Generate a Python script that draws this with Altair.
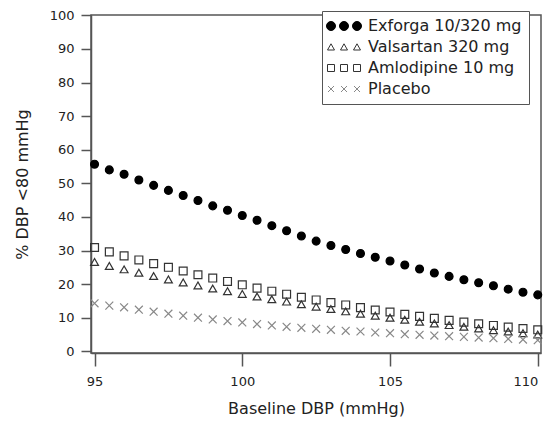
import altair as alt
import pandas as pd

baseline = [95 + 0.5 * i for i in range(31)]
series_names = ["Exforga 10/320 mg", "Valsartan 320 mg", "Amlodipine 10 mg", "Placebo"]

exforga = [55.7, 54.0, 52.7, 51.0, 49.4, 47.9, 46.4, 44.9, 43.3, 42.0, 40.4, 39.0, 37.4, 35.9, 34.3,
           32.8, 31.5, 30.3, 29.1, 28.0, 26.9, 25.7, 24.5, 23.3, 22.3, 21.3, 20.4, 19.5, 18.5, 17.6, 16.8]
valsartan = [26.6, 25.4, 24.4, 23.4, 22.4, 21.4, 20.5, 19.6, 18.7, 17.9, 17.1, 16.3, 15.5, 14.8, 14.0,
             13.3, 12.6, 11.9, 11.2, 10.6, 10.0, 9.4, 8.8, 8.3, 7.8, 7.3, 6.8, 6.3, 5.9, 5.4, 5.0]
amlodipine = [30.9, 29.6, 28.4, 27.2, 26.1, 25.0, 23.9, 22.8, 21.8, 20.8, 19.8, 18.8, 17.9, 17.0, 16.1,
              15.3, 14.5, 13.8, 13.0, 12.3, 11.7, 11.0, 10.4, 9.8, 9.2, 8.7, 8.2, 7.7, 7.2, 6.8, 6.4]
placebo = [14.3, 13.6, 13.1, 12.4, 11.8, 11.2, 10.6, 10.0, 9.5, 9.0, 8.6, 8.1, 7.7, 7.3, 7.0,
           6.7, 6.4, 6.1, 5.9, 5.6, 5.4, 5.1, 4.9, 4.7, 4.5, 4.3, 4.1, 3.9, 3.7, 3.5, 3.3]

x_ticks = [95, 100, 105, 110]
y_ticks = [0, 10, 20, 30, 40, 50, 60, 70, 80, 90, 100]

rows = []
for name, vals in zip(series_names, [exforga, valsartan, amlodipine, placebo]):
    for b, v in zip(baseline, vals):
        rows.append({"baseline": b, "pct": v, "series": name})
df = pd.DataFrame(rows)

FONT = "DejaVu Sans"
X_PATH = "M-1,-1L1,1M-1,1L1,-1"

# legend glyphs: three symbols side by side (unit = sqrt(symbolSize)/2 px)
def tri(cx):
    return f"M{cx-1.75},1.5L{cx+1.75},1.5L{cx},-1.6Z"
def sq(cx):
    return f"M{cx-1.75},-1.75h3.5v3.5h-3.5Z"
def circ(cx):
    r = 2.25
    return f"M{cx-r},0a{r},{r} 0 1,0 {2*r},0a{r},{r} 0 1,0 {-2*r},0Z"
def cross(cx):
    h = 1.5
    return f"M{cx-h},{-h}L{cx+h},{h}M{cx-h},{h}L{cx+h},{-h}"

cs = [-6.5, 0, 6.5]
legend_paths = ["".join(f(c) for c in cs) for f in (circ, tri, sq, cross)]

stroke_colors = ["#000000", "#333333", "#333333", "#888888"]
fill_colors = ["#000000", "transparent", "transparent", "transparent"]

x_enc = alt.X("baseline:Q", scale=alt.Scale(domain=[94.88, 110.11], nice=False, zero=False),
              axis=alt.Axis(values=x_ticks, title="Baseline DBP (mmHg)", grid=False,
                            tickSize=13, labelPadding=9, titlePadding=12, labelFontSize=13,
                            labelAlign=alt.ConditionalAxisLabelAlign(
                                condition={"test": "datum.value >= 110", "value": "right"},
                                value="center")))
y_enc = alt.Y("pct:Q", scale=alt.Scale(domain=[-0.5, 100.1], nice=False),
              axis=alt.Axis(values=y_ticks, title="% DBP <80 mmHg", grid=False,
                            tickSize=10, labelPadding=7, titlePadding=19, labelFontSize=13))

points = alt.Chart(df).mark_point(size=62, strokeWidth=1.2, opacity=1, filled=False).encode(
    x=x_enc, y=y_enc,
    shape=alt.Shape("series:N", scale=alt.Scale(domain=series_names,
                    range=["circle", "triangle-up", "square", X_PATH]), legend=None),
    color=alt.Color("series:N", scale=alt.Scale(domain=series_names, range=stroke_colors), legend=None),
    fill=alt.Fill("series:N", scale=alt.Scale(domain=series_names, range=fill_colors), legend=None),
)

legend = alt.Legend(
    title=None, orient="none", legendX=231, legendY=-4,
    strokeColor="#555", padding=7, fillColor="white",
    labelFont=FONT, labelFontSize=16, labelColor="#222",
    symbolSize=16, symbolOffset=7, labelOffset=16, rowPadding=5,
    symbolStrokeWidth=1,
)

legend_layer = alt.Chart(df).transform_filter("false").mark_point(
    size=16, strokeWidth=1, opacity=1, filled=False
).encode(
    x=x_enc, y=y_enc,
    shape=alt.Shape("series:N", scale=alt.Scale(domain=series_names, range=legend_paths), legend=legend),
    color=alt.Color("series:N", scale=alt.Scale(domain=series_names, range=stroke_colors), legend=legend),
    fill=alt.Fill("series:N", scale=alt.Scale(domain=series_names, range=fill_colors), legend=legend),
)

chart = alt.layer(points, legend_layer).resolve_scale(
    shape="independent", color="independent", fill="independent"
).properties(
    width=450, height=338,
    autosize=alt.AutoSizeParams(type="none"),
    padding={"left": 83, "top": 7, "right": 2, "bottom": 64},
).configure_view(
    stroke="#555", strokeWidth=1.5
).configure_axis(
    domainColor="#555", domainWidth=1.5, tickColor="#555", tickWidth=1.5,
    labelFont=FONT, labelFontSize=14, labelColor="#222",
    titleFont=FONT, titleFontSize=16, titleFontWeight="normal", titleColor="#222",
)

chart.save("out.html", embed_options={"renderer": "svg", "actions": False})
